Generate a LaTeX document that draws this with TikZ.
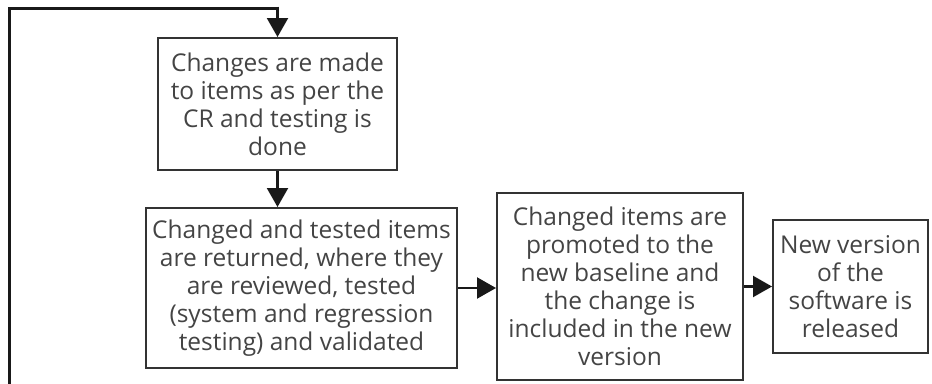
\documentclass[tikz,border=0pt]{standalone}
\usepackage{fontspec}
\setmainfont{Open Sans}
\usetikzlibrary{arrows.meta}
\definecolor{txt}{HTML}{444444}
\definecolor{edge}{HTML}{333333}
\begin{document}
\begin{tikzpicture}[x=1pt,y=-1pt,
  box/.style={draw=edge,line width=2pt,text=txt,align=center,inner sep=0pt,
    font=\fontsize{24.5}{28}\selectfont},
  arr/.style={draw=black!90,line width=2.2pt,-{Triangle[length=19pt,width=21pt]}},
  loop/.style={draw=black!90,line width=3pt}]
\useasboundingbox (0,0) rectangle (932,383);
\node[box,minimum width=239pt,minimum height=132pt] (b1) at (277.5,104) {Changes are made\\to items as per the\\CR and testing is\\done};
\node[box,minimum width=311pt,minimum height=160pt] (b2) at (301.5,288) {Changed and tested items\\are returned, where they\\are reviewed, tested\\(system and regression\\testing) and validated};
\node[box,minimum width=246pt,minimum height=187pt] (b3) at (620,286.5) {Changed items are\\promoted to the\\new baseline and\\the change is\\included in the new\\version};
\node[box,minimum width=155pt,minimum height=133pt] (b4) at (850.5,286.5) {New version\\of the\\software is\\released};
\coordinate (s) at (9,390);
\coordinate (c1) at (9,8);
\coordinate (c2) at (b1.north |- c1);
\draw[loop] (s) -- (c1) -- (c2);
\draw[arr] ([yshift=1.5pt]c2) -- (b1.north);
\draw[arr] (b1.south) -- (b1.south |- b2.north);
\draw[arr] (b2.east) -- (b3.west |- b2.east);
\draw[arr] (b3.east |- b4.west) -- (b4.west);
\end{tikzpicture}
\end{document}
